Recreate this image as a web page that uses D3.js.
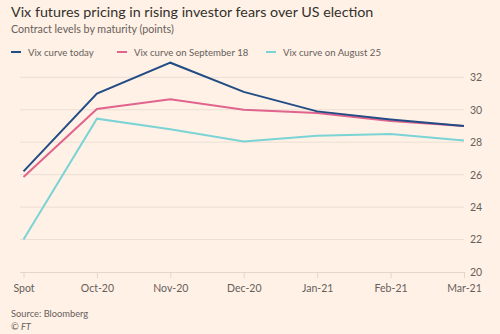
<!DOCTYPE html>
<html>
<head>
<meta charset="utf-8">
<script src="https://cdn.jsdelivr.net/npm/d3@7"></script>
<style>
  html, body { margin: 0; padding: 0; background: #fff1e5; }
  svg { display: block; }
  text { font-family: Lato, "Open Sans", sans-serif; }
</style>
</head>
<body>
<svg id="chart" width="500" height="334"></svg>
<script>
// Contract maturities along the curve
const maturities = ["Spot", "Oct-20", "Nov-20", "Dec-20", "Jan-21", "Feb-21", "Mar-21"];

// Vix futures levels (points) per maturity
const curveToday  = [26.2, 31.0, 32.9, 31.1, 29.9, 29.4, 29.0];
const curveSep18  = [25.85, 30.05, 30.65, 30.0, 29.8, 29.3, 29.0];
const curveAug25  = [22.0, 29.45, 28.8, 28.05, 28.4, 28.5, 28.1];

const seriesNames  = ["Vix curve today", "Vix curve on September 18", "Vix curve on August 25"];
const seriesColors = ["#224c86", "#e0648d", "#7bd3d5"];

const yTicks = [20, 22, 24, 26, 28, 30, 32];

const series = [curveToday, curveSep18, curveAug25];

const svg = d3.select("#chart");
const font = "Lato, \"Open Sans\", sans-serif";

// Titles
svg.append("text").attr("x", 11).attr("y", 17)
  .attr("font-size", 14.3).attr("fill", "#33302e")
  .text("Vix futures pricing in rising investor fears over US election");
svg.append("text").attr("x", 11).attr("y", 33)
  .attr("font-size", 10.7).attr("fill", "#66605c")
  .text("Contract levels by maturity (points)");

// Legend
const legendX = [11, 117, 266];
series.forEach((s, i) => {
  const g = svg.append("g").attr("transform", `translate(${legendX[i]},52)`);
  g.append("line").attr("x1", 0).attr("x2", 10).attr("y1", 0).attr("y2", 0)
    .attr("stroke", seriesColors[i]).attr("stroke-width", 2);
  g.append("text").attr("x", 17).attr("y", 3.5)
    .attr("font-size", 9.6).attr("fill", "#66605c")
    .text(seriesNames[i]);
});

// Scales
const x = d3.scalePoint().domain(maturities).range([23.5, 464]);
const y = d3.scaleLinear().domain([20, 32]).range([272, 77.3]);

// Horizontal gridlines
svg.append("g")
  .selectAll("line").data(yTicks.slice(1)).join("line")
  .attr("x1", 20).attr("x2", 464)
  .attr("y1", d => y(d)).attr("y2", d => y(d))
  .attr("stroke", "#ebded3").attr("stroke-width", 1);

// Y axis on the right
const yAxis = svg.append("g").attr("transform", "translate(464,0)")
  .call(d3.axisRight(y).tickValues(yTicks).tickSize(0).tickPadding(6));
yAxis.select(".domain").remove();
yAxis.selectAll("text").attr("font-size", 10.5).attr("fill", "#66605c")
  .attr("font-family", font);

// X axis with baseline and tick marks
const xAxis = svg.append("g").attr("transform", "translate(0,272)")
  .call(d3.axisBottom(x).tickSize(6).tickPadding(7).tickSizeOuter(0));
xAxis.select(".domain").attr("stroke", "#e3d6cb").attr("d", "M20,0.5H464");
xAxis.selectAll(".tick line").attr("stroke", "#e3d6cb");
xAxis.selectAll("text").attr("font-size", 10.5).attr("fill", "#66605c")
  .attr("font-family", font);

// Lines, drawn back to front
const line = d3.line().x((d, i) => x(maturities[i])).y(d => y(d));
[2, 1, 0].forEach(i => {
  svg.append("path").datum(series[i])
    .attr("d", line).attr("fill", "none")
    .attr("stroke", seriesColors[i]).attr("stroke-width", 2)
    .attr("stroke-linejoin", "miter");
});

// Footer
svg.append("text").attr("x", 11).attr("y", 317)
  .attr("font-size", 9.3).attr("fill", "#66605c").text("Source: Bloomberg");
svg.append("text").attr("x", 11).attr("y", 330)
  .attr("font-size", 9.3).attr("fill", "#66605c").attr("font-style", "italic").text("© FT");
</script>
</body>
</html>
